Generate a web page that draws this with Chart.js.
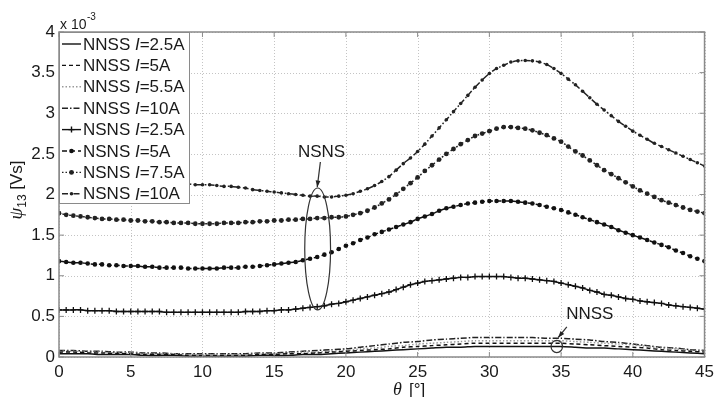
<!DOCTYPE html>
<html>
<head>
<meta charset="utf-8">
<script src="https://cdn.jsdelivr.net/npm/chart.js@4.4.0/dist/chart.umd.min.js"></script>
<style>
  html, body { margin: 0; padding: 0; background: #fff; }
  #wrap { width: 719px; height: 397px; position: relative; }
</style>
</head>
<body>
<div id="wrap"><canvas id="chart"></canvas></div>
<script>
// theta [deg] sample positions
const thetaFine = [
  0, 0.5, 1, 1.5, 2, 2.5, 3, 3.5, 4, 4.5,
  5, 5.5, 6, 6.5, 7, 7.5, 8, 8.5, 9, 9.5,
  10, 10.5, 11, 11.5, 12, 12.5, 13, 13.5, 14, 14.5,
  15, 15.5, 16, 16.5, 17, 17.5, 18, 18.5, 19, 19.5,
  20, 20.5, 21, 21.5, 22, 22.5, 23, 23.5, 24, 24.5,
  25, 25.5, 26, 26.5, 27, 27.5, 28, 28.5, 29, 29.5,
  30, 30.5, 31, 31.5, 32, 32.5, 33, 33.5, 34, 34.5,
  35, 35.5, 36, 36.5, 37, 37.5, 38, 38.5, 39, 39.5,
  40, 40.5, 41, 41.5, 42, 42.5, 43, 43.5, 44, 44.5,
  45
];
const thetaCoarse = [
  0, 1, 2, 3, 4, 5, 6, 7, 8, 9,
  10, 11, 12, 13, 14, 15, 16, 17, 18, 19,
  20, 21, 22, 23, 24, 25, 26, 27, 28, 29,
  30, 31, 32, 33, 34, 35, 36, 37, 38, 39,
  40, 41, 42, 43, 44, 45
];

// psi13 values in units of 1e-3 Vs
const nnss25 = [
  0.04, 0.04, 0.04, 0.03, 0.03, 0.03, 0.02, 0.02, 0.02, 0.01,
  0.01, 0.01, 0.01, 0.01, 0.02, 0.02, 0.02, 0.03, 0.03, 0.04,
  0.05, 0.06, 0.07, 0.08, 0.09, 0.10, 0.11, 0.12, 0.12, 0.13,
  0.13, 0.13, 0.13, 0.13, 0.13, 0.13, 0.12, 0.11, 0.11, 0.10,
  0.09, 0.08, 0.07, 0.06, 0.05, 0.04
];
const nnss5 = [
  0.06, 0.06, 0.05, 0.05, 0.04, 0.04, 0.03, 0.03, 0.03, 0.02,
  0.02, 0.02, 0.02, 0.02, 0.03, 0.03, 0.04, 0.04, 0.05, 0.06,
  0.07, 0.08, 0.09, 0.10, 0.12, 0.13, 0.14, 0.15, 0.16, 0.17,
  0.17, 0.17, 0.17, 0.17, 0.17, 0.17, 0.16, 0.15, 0.14, 0.13,
  0.12, 0.11, 0.09, 0.08, 0.07, 0.06
];
const nnss55 = [
  0.07, 0.07, 0.06, 0.06, 0.05, 0.05, 0.04, 0.04, 0.04, 0.03,
  0.03, 0.03, 0.03, 0.03, 0.04, 0.04, 0.05, 0.06, 0.06, 0.07,
  0.08, 0.10, 0.11, 0.13, 0.14, 0.16, 0.17, 0.18, 0.19, 0.20,
  0.20, 0.20, 0.20, 0.20, 0.20, 0.20, 0.19, 0.18, 0.17, 0.16,
  0.15, 0.13, 0.11, 0.10, 0.08, 0.07
];
const nnss10 = [
  0.08, 0.08, 0.07, 0.07, 0.06, 0.06, 0.05, 0.05, 0.04, 0.04,
  0.04, 0.04, 0.04, 0.04, 0.05, 0.05, 0.06, 0.07, 0.08, 0.09,
  0.10, 0.12, 0.14, 0.16, 0.18, 0.19, 0.21, 0.22, 0.23, 0.24,
  0.24, 0.24, 0.24, 0.24, 0.23, 0.23, 0.22, 0.21, 0.19, 0.18,
  0.16, 0.14, 0.12, 0.11, 0.09, 0.08
];
const nsns25 = [
  0.58, 0.58, 0.58, 0.58, 0.57, 0.57, 0.57, 0.57, 0.56, 0.56,
  0.56, 0.56, 0.56, 0.56, 0.56, 0.55, 0.55, 0.55, 0.55, 0.55,
  0.55, 0.55, 0.55, 0.55, 0.55, 0.55, 0.56, 0.56, 0.56, 0.57,
  0.57, 0.58, 0.58, 0.59, 0.60, 0.61, 0.62, 0.63, 0.65, 0.66,
  0.68, 0.70, 0.72, 0.74, 0.76, 0.78, 0.80, 0.83, 0.86, 0.89,
  0.91, 0.93, 0.94, 0.95, 0.96, 0.97, 0.98, 0.98, 0.99, 0.99,
  0.99, 0.99, 0.99, 0.98, 0.97, 0.97, 0.96, 0.95, 0.94, 0.93,
  0.91, 0.89, 0.87, 0.85, 0.82, 0.80, 0.77, 0.76, 0.74, 0.72,
  0.71, 0.69, 0.68, 0.67, 0.66, 0.64, 0.63, 0.62, 0.61, 0.60,
  0.59
];
const nsns5 = [
  1.18, 1.17, 1.16, 1.16, 1.15, 1.14, 1.14, 1.13, 1.13, 1.12,
  1.12, 1.12, 1.11, 1.11, 1.10, 1.10, 1.10, 1.10, 1.09, 1.09,
  1.09, 1.09, 1.09, 1.10, 1.10, 1.10, 1.11, 1.11, 1.12, 1.13,
  1.14, 1.15, 1.16, 1.17, 1.19, 1.21, 1.23, 1.26, 1.29, 1.33,
  1.37, 1.40, 1.44, 1.47, 1.51, 1.54, 1.57, 1.60, 1.63, 1.66,
  1.70, 1.73, 1.76, 1.80, 1.83, 1.85, 1.87, 1.89, 1.90, 1.91,
  1.92, 1.92, 1.92, 1.92, 1.91, 1.90, 1.89, 1.87, 1.85, 1.83,
  1.81, 1.78, 1.75, 1.72, 1.69, 1.66, 1.63, 1.60, 1.56, 1.53,
  1.50, 1.47, 1.44, 1.41, 1.38, 1.35, 1.31, 1.28, 1.24, 1.21,
  1.18
];
const nsns75 = [
  1.77, 1.75, 1.74, 1.73, 1.72, 1.71, 1.70, 1.70, 1.69, 1.69,
  1.68, 1.68, 1.67, 1.67, 1.66, 1.66, 1.65, 1.65, 1.65, 1.64,
  1.64, 1.64, 1.64, 1.65, 1.65, 1.65, 1.66, 1.66, 1.67, 1.67,
  1.68, 1.68, 1.69, 1.69, 1.70, 1.70, 1.71, 1.71, 1.72, 1.72,
  1.73, 1.75, 1.77, 1.80, 1.84, 1.89, 1.94, 2.00, 2.07, 2.14,
  2.21, 2.29, 2.36, 2.43, 2.50, 2.56, 2.62, 2.67, 2.72, 2.75,
  2.78, 2.81, 2.83, 2.83, 2.82, 2.81, 2.79, 2.76, 2.73, 2.69,
  2.65, 2.59, 2.53, 2.48, 2.42, 2.36, 2.30, 2.25, 2.20, 2.15,
  2.10, 2.05, 2.01, 1.97, 1.93, 1.90, 1.87, 1.84, 1.81, 1.79,
  1.77
];
const nsns10 = [
  2.13, 2.13, 2.14, 2.14, 2.14, 2.14, 2.14, 2.14, 2.14, 2.14,
  2.14, 2.14, 2.14, 2.13, 2.13, 2.13, 2.13, 2.13, 2.13, 2.12,
  2.12, 2.12, 2.11, 2.10, 2.10, 2.09, 2.08, 2.06, 2.05, 2.04,
  2.03, 2.02, 2.01, 2.00, 1.99, 1.98, 1.98, 1.97, 1.97, 1.98,
  1.99, 2.01, 2.04, 2.07, 2.11, 2.16, 2.22, 2.30, 2.38, 2.45,
  2.53, 2.62, 2.72, 2.82, 2.92, 3.02, 3.12, 3.22, 3.32, 3.41,
  3.49, 3.55, 3.59, 3.63, 3.645, 3.65, 3.645, 3.63, 3.60, 3.55,
  3.49, 3.42, 3.35, 3.27, 3.19, 3.11, 3.04, 2.97, 2.90, 2.84,
  2.78, 2.73, 2.68, 2.63, 2.59, 2.55, 2.51, 2.47, 2.43, 2.39,
  2.35
];

const xTicks = [0, 5, 10, 15, 20, 25, 30, 35, 40, 45];
const yTicks = [0, 0.5, 1, 1.5, 2, 2.5, 3, 3.5, 4];
const configNames = ['NNSS', 'NNSS', 'NNSS', 'NNSS', 'NSNS', 'NSNS', 'NSNS', 'NSNS'];
const currents = ['2.5A', '5A', '5.5A', '10A', '2.5A', '5A', '7.5A', '10A'];

const SANS = '"Liberation Sans", Arial, Helvetica, sans-serif';
const INK = '#1a1a1a';

function pts(xs, ys) {
  return xs.map((x, i) => ({ x, y: ys[i] }));
}

const styles = [
  { color: '#111', dash: [], point: false },
  { color: '#111', dash: [4, 3], point: false },
  { color: '#9a9a9a', dash: [1.5, 2], point: false },
  { color: '#222', dash: [6, 2, 1.5, 2], point: false },
  { color: '#111', dash: [], point: 'cross', r: 3 },
  { color: '#111', dash: [5, 3], point: 'circle', r: 2.3 },
  { color: '#222', dash: [1.5, 2], point: 'circle', r: 2.4 },
  { color: '#222', dash: [6, 2, 1.5, 2], point: 'circle', r: 1.8 },
];
const series = [
  pts(thetaCoarse, nnss25), pts(thetaCoarse, nnss5), pts(thetaCoarse, nnss55), pts(thetaCoarse, nnss10),
  pts(thetaFine, nsns25), pts(thetaFine, nsns5), pts(thetaFine, nsns75), pts(thetaFine, nsns10),
];

const datasets = series.map((data, i) => {
  const s = styles[i];
  return {
    label: configNames[i] + ' I=' + currents[i],
    data,
    borderColor: s.color,
    borderWidth: 1.5,
    borderDash: s.dash,
    backgroundColor: s.color,
    pointStyle: s.point || 'circle',
    pointRadius: s.point ? s.r : 0,
    pointBorderWidth: s.point === 'cross' ? 1.3 : 0,
    pointBorderColor: s.color,
    pointBackgroundColor: s.color,
    tension: 0.2,
    fill: false,
  };
});

// annotation positions in data units (theta, psi*1e3)
const nsnsEllipse = { x: 18.03, y: 1.33, rx: 0.9, ry: 0.75 };
const nnssEllipse = { x: 34.7, y: 0.13, rx: 0.4, ry: 0.075 };

function arrow(ctx, x1, y1, x2, y2) {
  ctx.beginPath();
  ctx.moveTo(x1, y1);
  ctx.lineTo(x2, y2);
  ctx.stroke();
  const a = Math.atan2(y2 - y1, x2 - x1);
  ctx.beginPath();
  ctx.moveTo(x2, y2);
  ctx.lineTo(x2 - 7 * Math.cos(a - 0.35), y2 - 7 * Math.sin(a - 0.35));
  ctx.lineTo(x2 - 7 * Math.cos(a + 0.35), y2 - 7 * Math.sin(a + 0.35));
  ctx.closePath();
  ctx.fill();
}

const decor = {
  id: 'decor',
  beforeDatasetsDraw(chart) {
    const { ctx, chartArea: a, scales: { x, y } } = chart;
    ctx.save();
    ctx.strokeStyle = '#c4c4c4';
    ctx.lineWidth = 1;
    ctx.setLineDash([1, 2]);
    xTicks.forEach(v => {
      const px = Math.round(x.getPixelForValue(v)) + 0.5;
      ctx.beginPath(); ctx.moveTo(px, a.top); ctx.lineTo(px, a.bottom); ctx.stroke();
    });
    yTicks.forEach(v => {
      const py = Math.round(y.getPixelForValue(v)) + 0.5;
      ctx.beginPath(); ctx.moveTo(a.left, py); ctx.lineTo(a.right, py); ctx.stroke();
    });
    ctx.restore();
  },
  afterDatasetsDraw(chart) {
    const { ctx, chartArea: a, scales: { x, y } } = chart;
    ctx.save();

    // frame + inward ticks
    ctx.strokeStyle = '#8a8a8a';
    ctx.lineWidth = 1.5;
    ctx.setLineDash([]);
    ctx.strokeRect(a.left, a.top, a.right - a.left, a.bottom - a.top);
    ctx.lineWidth = 1;
    xTicks.forEach(v => {
      const px = x.getPixelForValue(v);
      ctx.beginPath(); ctx.moveTo(px, a.bottom); ctx.lineTo(px, a.bottom - 5);
      ctx.moveTo(px, a.top); ctx.lineTo(px, a.top + 5); ctx.stroke();
    });
    yTicks.forEach(v => {
      const py = y.getPixelForValue(v);
      ctx.beginPath(); ctx.moveTo(a.left, py); ctx.lineTo(a.left + 5, py);
      ctx.moveTo(a.right, py); ctx.lineTo(a.right - 5, py); ctx.stroke();
    });

    // legend box
    const lx = a.left, ly = a.top, lw = 130, lh = 171;
    ctx.fillStyle = '#fff';
    ctx.fillRect(lx, ly, lw, lh);
    ctx.strokeStyle = '#8a8a8a';
    ctx.strokeRect(lx + 0.5, ly + 0.5, lw, lh);
    chart.data.datasets.forEach((ds, i) => {
      const cy = ly + 12 + i * 21.4;
      ctx.strokeStyle = ds.borderColor;
      ctx.fillStyle = ds.borderColor;
      ctx.lineWidth = 1.4;
      ctx.setLineDash(ds.borderDash);
      ctx.beginPath(); ctx.moveTo(lx + 3, cy); ctx.lineTo(lx + 22, cy); ctx.stroke();
      ctx.setLineDash([]);
      if (ds.pointRadius > 0) {
        if (ds.pointStyle === 'cross') {
          ctx.beginPath();
          ctx.moveTo(lx + 12.5, cy - 3); ctx.lineTo(lx + 12.5, cy + 3);
          ctx.moveTo(lx + 9.5, cy); ctx.lineTo(lx + 15.5, cy);
          ctx.stroke();
        } else {
          ctx.beginPath(); ctx.arc(lx + 12.5, cy, ds.pointRadius, 0, Math.PI * 2); ctx.fill();
        }
      }
      ctx.fillStyle = INK;
      ctx.textBaseline = 'middle';
      ctx.textAlign = 'left';
      let tx = lx + 24;
      ctx.font = '17px ' + SANS;
      const head = configNames[i] + ' ';
      ctx.fillText(head, tx, cy + 1); tx += ctx.measureText(head).width;
      ctx.font = 'italic 17px ' + SANS;
      ctx.fillText('I', tx, cy + 1); tx += ctx.measureText('I').width;
      ctx.font = '17px ' + SANS;
      ctx.fillText('=' + currents[i], tx, cy + 1);
    });

    // annotations
    ctx.strokeStyle = '#333';
    ctx.fillStyle = '#222';
    ctx.lineWidth = 1.2;
    [nsnsEllipse, nnssEllipse].forEach(e => {
      const cx = x.getPixelForValue(e.x), cy = y.getPixelForValue(e.y);
      const rx = x.getPixelForValue(e.x + e.rx) - cx;
      const ry = cy - y.getPixelForValue(e.y + e.ry);
      ctx.beginPath(); ctx.ellipse(cx, cy, rx, ry, 0, 0, Math.PI * 2); ctx.stroke();
    });
    ctx.font = '17px ' + SANS;
    ctx.textAlign = 'center';
    ctx.textBaseline = 'middle';
    ctx.fillStyle = INK;
    ctx.fillText('NSNS', x.getPixelForValue(18.3), y.getPixelForValue(2.52));
    ctx.fillText('NNSS', x.getPixelForValue(37.0), y.getPixelForValue(0.52));
    ctx.fillStyle = '#222';
    arrow(ctx, x.getPixelForValue(18.22), y.getPixelForValue(2.40), x.getPixelForValue(18.0), y.getPixelForValue(2.09));
    arrow(ctx, x.getPixelForValue(35.4), y.getPixelForValue(0.37), x.getPixelForValue(34.8), y.getPixelForValue(0.24));

    // exponent label
    ctx.fillStyle = INK;
    ctx.textAlign = 'left';
    ctx.textBaseline = 'alphabetic';
    ctx.font = '14px ' + SANS;
    ctx.fillText('x 10', a.left + 1, 29);
    ctx.font = '10px ' + SANS;
    ctx.fillText('-3', a.left + 28, 20);

    // x title
    ctx.font = 'italic 18px "Liberation Serif", "Times New Roman", serif';
    ctx.fillText('\u03b8', 393, 395);
    ctx.font = '17px ' + SANS;
    ctx.fillText('[\u00b0]', 409, 395);

    // y title (rotated)
    ctx.translate(22, 190);
    ctx.rotate(-Math.PI / 2);
    ctx.font = 'italic 19px "Liberation Serif", "Times New Roman", serif';
    const wPsi = ctx.measureText('\u03c8').width;
    ctx.font = '12px ' + SANS;
    const wSub = ctx.measureText('13').width;
    ctx.font = '17px ' + SANS;
    const wRest = ctx.measureText(' [Vs]').width;
    let tx = -(wPsi + wSub + wRest) / 2;
    ctx.font = 'italic 19px "Liberation Serif", "Times New Roman", serif';
    ctx.fillText('\u03c8', tx, 0); tx += wPsi;
    ctx.font = '12px ' + SANS;
    ctx.fillText('13', tx, 4); tx += wSub;
    ctx.font = '17px ' + SANS;
    ctx.fillText(' [Vs]', tx, 0);

    ctx.restore();
  }
};

Chart.defaults.font.family = SANS;
Chart.defaults.color = INK;

new Chart(document.getElementById('chart'), {
  type: 'line',
  data: { datasets },
  options: {
    responsive: true,
    maintainAspectRatio: false,
    animation: false,
    layout: { padding: { top: 32, right: 9, left: 0, bottom: 0 } },
    plugins: { legend: { display: false }, tooltip: { enabled: false } },
    scales: {
      x: {
        type: 'linear', min: 0, max: 45,
        afterFit: s => { s.height = 40; },
        afterBuildTicks: s => { s.ticks = xTicks.map(v => ({ value: v })); },
        grid: { display: false, drawTicks: false },
        border: { display: false },
        ticks: { font: { size: 17 }, color: INK, padding: 5, maxRotation: 0, callback: v => String(v) },
      },
      y: {
        type: 'linear', min: 0, max: 4,
        afterFit: s => { s.width = 59; },
        afterBuildTicks: s => { s.ticks = yTicks.map(v => ({ value: v })); },
        grid: { display: false, drawTicks: false },
        border: { display: false },
        ticks: { font: { size: 17 }, color: INK, padding: 4, callback: v => String(v) },
      },
    },
  },
  plugins: [decor],
});
</script>
</body>
</html>
